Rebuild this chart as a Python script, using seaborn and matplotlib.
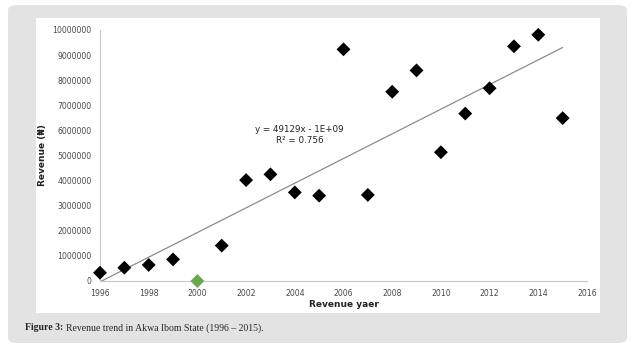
#Revenue trend in Akwa Ibom State (1996 - 2015)
import numpy as np
import pandas as pd
import matplotlib
matplotlib.use('Agg')
import matplotlib.pyplot as plt
import seaborn as sns
from matplotlib.patches import FancyBboxPatch, Rectangle

#Dados
anos = [1996, 1997, 1998, 1999, 2000, 2001, 2002, 2003, 2004, 2005,
        2006, 2007, 2008, 2009, 2010, 2011, 2012, 2013, 2014, 2015]
receita = [330000, 530000, 640000, 860000, 0, 1410000, 4020000, 4250000, 3530000, 3400000,
           9230000, 3430000, 7540000, 8390000, 5130000, 6670000, 7680000, 9350000, 9810000, 6490000]
destaque = [2000]

df = pd.DataFrame({'Ano': anos, 'Receita': receita})
df['Grupo'] = np.where(df['Ano'].isin(destaque), 'destaque', 'normal')

sns.set_style('white')

fig = plt.figure(figsize = (6.39, 3.51), dpi = 100)
fig.patch.set_facecolor('white')

#Moldura cinza e painel branco
fig.patches.append(FancyBboxPatch((8 / 639, 8 / 351), 619 / 639, 338 / 351,
                                  boxstyle = 'round,pad=0,rounding_size=0.015',
                                  transform = fig.transFigure, facecolor = '#e3e3e3',
                                  edgecolor = 'none', zorder = 0))
fig.patches.append(Rectangle((36 / 639, 1 - 313 / 351), 564 / 639, 295 / 351,
                             transform = fig.transFigure, facecolor = 'white',
                             edgecolor = 'none', zorder = 1))

ax = fig.add_axes([100 / 639, 1 - 281 / 351, 487 / 639, 251 / 351])
ax.set_zorder(5)
ax.set_facecolor('none')

sns.scatterplot(data = df, x = 'Ano', y = 'Receita', hue = 'Grupo',
                palette = {'normal': 'black', 'destaque': '#6aa84f'},
                marker = 'D', s = 50, edgecolor = 'none', legend = False,
                clip_on = False, zorder = 3, ax = ax)

#Linha de tendência
coef = np.polyfit(df['Ano'], df['Receita'], 1)
xs = np.array([1996, 2015])
ax.plot(xs, np.polyval(coef, xs), color = '#8c8c8c', linewidth = 0.9, zorder = 2)

ax.text(2004.2, 5820000, 'y = 49129x - 1E+09\nR² = 0.756', ha = 'center', va = 'center',
        fontsize = 6.3, color = '#222222', linespacing = 1.3)

ax.set_xlim(1996, 2016)
ax.set_ylim(0, 10000000)
ax.set_xticks(range(1996, 2017, 2))
ax.set_yticks(range(0, 10000001, 1000000))
ax.set_yticklabels([str(v) for v in range(0, 10000001, 1000000)])

for s in ['top', 'right']:
    ax.spines[s].set_visible(False)
for s in ['left', 'bottom']:
    ax.spines[s].set_color('#c8c8c8')
    ax.spines[s].set_linewidth(0.8)
ax.tick_params(axis = 'both', labelsize = 5.6, colors = '#c8c8c8', labelcolor = '#4a4a4a',
               length = 3, width = 0.8, direction = 'out', pad = 3)

ax.set_xlabel('Revenue yaer', fontsize = 6.5, fontweight = 'bold', color = '#222222', labelpad = 1)
ax.set_ylabel('Revenue (₦)', fontsize = 6.5, fontweight = 'bold', color = '#222222', labelpad = 4)

#Legenda da figura
t1 = fig.text(25 / 639, 1 - 328 / 351, 'Figure 3:', fontsize = 7.0, fontweight = 'bold',
              family = 'Liberation Serif', va = 'center', ha = 'left', zorder = 6)
fig.canvas.draw()
bb = t1.get_window_extent()
fig.text((bb.x1 + 3) / 639, 1 - 328 / 351, 'Revenue trend in Akwa Ibom State (1996 – 2015).',
         fontsize = 7.0, family = 'Liberation Serif', va = 'center', ha = 'left', zorder = 6)

plt.savefig('out.png', dpi = 100)
